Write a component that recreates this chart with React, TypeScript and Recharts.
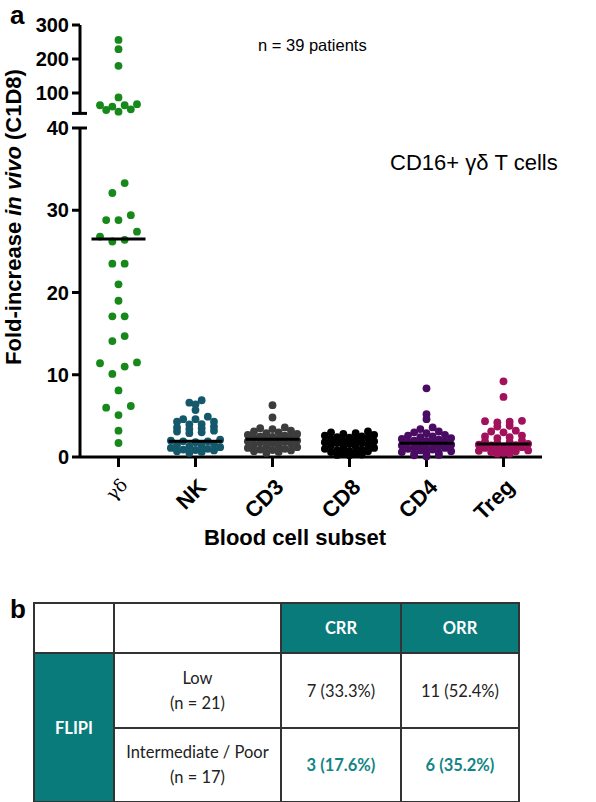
import React from "react";
import { ScatterChart, Scatter, XAxis, YAxis } from "recharts";

const SUBSETS = ["γδ", "NK", "CD3", "CD8", "CD4", "Treg"];
const COLORS = ["#17891b", "#14596b", "#3c3c3c", "#000000", "#4a0b62", "#a1115c"];

// fold-increase per patient
const GD_HIGH = [256, 229, 180, 87, 67, 64, 64, 60, 52, 50, 45];
const GD_LOW = [33.3, 32.1, 29.4, 28.8, 28.8, 27.4, 26.8, 26.4, 26.2, 23.5, 23.5, 21.0, 19.0, 17.1, 17.1, 14.7, 14.1, 11.5, 11.4, 11.0, 10.1, 8.1, 6.2, 6.0, 5.1, 3.2, 1.7];
const NK = [6.9, 6.6, 6.4, 5.7, 4.9, 4.6, 4.6, 4.3, 4.3, 4.0, 3.95, 3.7, 3.6, 3.5, 3.4, 3.2, 3.1, 3.0, 2.9, 2.1, 2.0, 1.9, 1.9, 1.8, 1.6, 1.5, 1.4, 1.3, 1.2, 1.1, 1.0, 0.9, 0.85, 0.8, 0.7, 0.6, 0.5];
const CD3 = [6.3, 4.8, 3.6, 3.5, 3.4, 3.2, 3.1, 3.0, 2.9, 2.8, 2.7, 2.6, 2.5, 2.45, 2.4, 2.3, 2.2, 2.1, 2.0, 1.9, 1.85, 1.8, 1.7, 1.6, 1.5, 1.4, 1.3, 1.2, 1.1, 1.0, 0.9, 0.85, 0.8, 0.7, 0.6, 0.5];
const CD8 = [3.1, 3.0, 2.9, 2.8, 2.7, 2.6, 2.5, 2.4, 2.35, 2.3, 2.2, 2.1, 2.0, 1.9, 1.8, 1.75, 1.7, 1.6, 1.5, 1.4, 1.3, 1.2, 1.1, 1.0, 0.9, 0.8, 0.75, 0.7, 0.6, 0.5, 0.4, 0.3, 0.25, 0.2];
const CD4 = [8.35, 5.2, 4.6, 3.6, 3.4, 3.1, 3.0, 2.9, 2.7, 2.6, 2.5, 2.4, 2.3, 2.2, 2.1, 2.0, 1.95, 1.9, 1.8, 1.7, 1.6, 1.5, 1.4, 1.3, 1.2, 1.15, 1.1, 1.0, 0.9, 0.8, 0.7, 0.6, 0.5, 0.4, 0.35, 0.25, 0.2, 0.05];
const TREG = [9.2, 7.3, 4.4, 4.35, 4.3, 4.2, 3.8, 3.7, 3.2, 3.1, 3.0, 2.6, 2.5, 2.4, 2.3, 2.0, 1.9, 1.8, 1.7, 1.6, 1.5, 1.45, 1.4, 1.3, 1.2, 1.1, 1.0, 0.9, 0.8, 0.75, 0.7, 0.6, 0.5, 0.4, 0.4];
const MEDIANS = [26.5, 1.9, 2.15, 1.67, 1.66, 1.58];

const LOW_TICKS = [0, 10, 20, 30, 40];
const HIGH_TICKS = [40, 100, 200, 300];

// table b
const TABLE_COLS = ["CRR", "ORR"];
const TABLE_ROWS = [
  { group: "Low", n: 21, crr: "7 (33.3%)", orr: "11 (52.4%)", hi: false },
  { group: "Intermediate / Poor", n: 17, crr: "3 (17.6%)", orr: "6 (35.2%)", hi: true },
];

const TEAL = "#0a7b7b";
const FONT = '"Liberation Sans", Arial, sans-serif';
const W = 596;
const M = { left: 0, right: 54 };
const SLOT = 0.08; // horizontal spacing of swarm columns, in category units

// Prism-style scatter: points binned into rows, spread symmetrically
function swarm(values: number[], group: number, step: number) {
  const s = [...values].sort((a, b) => b - a);
  const out: { x: number; y: number }[] = [];
  let i = 0;
  while (i < s.length) {
    let j = i;
    while (j < s.length && s[i] - s[j] < step) j++;
    const n = j - i;
    for (let k = 0; k < n; k++) {
      const mag = n - 1 - 2 * Math.floor(k / 2);
      out.push({ x: group + (k % 2 === 0 ? mag : -mag) * SLOT, y: s[i + k] });
    }
    i = j;
  }
  return out;
}

const dot = (color: string) => (p: any) => <circle cx={p.cx} cy={p.cy} r={3.9} fill={color} />;
const medianBar = (p: any) => <line x1={p.cx - 27} x2={p.cx + 27} y1={p.cy} y2={p.cy} stroke="#000" strokeWidth={3} />;

function makeYTick(showBreakLabel: boolean) {
  return (props: any) => {
    const { x, y, payload } = props;
    const axisX = x + 11;
    const v = payload.value;
    return (
      <g>
        {v === 40 && <line x1={axisX} x2={axisX + 7} y1={y} y2={y} stroke="#000" strokeWidth={3} />}
        {(v !== 40 || showBreakLabel) && (
          <text x={x} y={y} dy="0.36em" textAnchor="end" fontFamily={FONT} fontWeight="bold" fontSize={20} fill="#000">
            {v}
          </text>
        )}
      </g>
    );
  };
}

function XTick(props: any) {
  const { x, y, payload } = props;
  const i = payload.value as number;
  const greek = i === 0;
  return (
    <g transform={`translate(${x + 1},${y + 6}) rotate(-45)`}>
      <text textAnchor="end" dy={greek ? 13 : 16} fontFamily={greek ? '"DejaVu Serif", serif' : FONT}
        fontWeight={greek ? "normal" : "bold"} fontSize={greek ? 18 : 22} fill="#000">
        {SUBSETS[i]}
      </text>
    </g>
  );
}

export default function App() {
  const groups = [GD_LOW, NK, CD3, CD8, CD4, TREG];
  const lowData = groups.map((g, i) => swarm(g, i, i === 0 ? 1.45 : 0.38));
  const highData = swarm(GD_HIGH, 0, 15);
  const medData = MEDIANS.map((m, i) => ({ x: i, y: m }));
  const axisStyle = { stroke: "#000", strokeWidth: 3 };

  return (
    <div style={{ position: "absolute", left: 0, top: 0, width: W, height: 802, background: "#fff", fontFamily: FONT }}>
      <ScatterChart width={W} height={560} margin={{ top: 128, right: M.right, bottom: 0, left: M.left }}
        style={{ position: "absolute", left: 0, top: 0 }}>
        <XAxis type="number" dataKey="x" domain={[-0.5, 5.5]} ticks={[0, 1, 2, 3, 4, 5]} interval={0}
          height={103} axisLine={axisStyle} tickLine={axisStyle} tickSize={10} tickMargin={4} tick={<XTick />} />
        <YAxis type="number" dataKey="y" domain={[0, 40]} ticks={LOW_TICKS} interval={0} width={80}
          axisLine={axisStyle} tickLine={axisStyle} tickSize={8} tickMargin={3} tick={makeYTick(true)} />
        {lowData.map((d, i) => (
          <Scatter key={SUBSETS[i]} data={d} shape={dot(COLORS[i])} isAnimationActive={false} />
        ))}
        <Scatter data={medData} shape={medianBar} isAnimationActive={false} />
      </ScatterChart>

      <ScatterChart width={W} height={130} margin={{ top: 25, right: M.right, bottom: 16.6, left: M.left }}
        style={{ position: "absolute", left: 0, top: 0 }}>
        <XAxis type="number" dataKey="x" domain={[-0.5, 5.5]} hide />
        <YAxis type="number" dataKey="y" domain={[40, 300]} ticks={HIGH_TICKS} interval={0} width={80}
          axisLine={axisStyle} tickLine={axisStyle} tickSize={8} tickMargin={3} tick={makeYTick(false)} />
        <Scatter data={highData} shape={dot(COLORS[0])} isAnimationActive={false} />
      </ScatterChart>

      {/* labels */}
      <div style={{ position: "absolute", left: 10, top: 2, fontSize: 26, fontWeight: "bold", lineHeight: 1 }}>a</div>
      <div style={{ position: "absolute", left: 14, top: 217, transform: "translate(-50%,-50%) rotate(-90deg)",
        whiteSpace: "nowrap", fontSize: 22, fontWeight: "bold", lineHeight: 1 }}>
        Fold-increase <i>in vivo</i> (C1D8)
      </div>
      <div style={{ position: "absolute", left: 258, top: 37, fontSize: 16.5, lineHeight: 1 }}>n = 39 patients</div>
      <div style={{ position: "absolute", left: 390, top: 152, fontSize: 22, lineHeight: 1 }}>CD16+ γδ T cells</div>
      <div style={{ position: "absolute", left: 295, top: 538, transform: "translate(-50%,-50%)",
        whiteSpace: "nowrap", fontSize: 22, fontWeight: "bold", lineHeight: 1 }}>Blood cell subset</div>

      <div style={{ position: "absolute", left: 10, top: 596, fontSize: 26, fontWeight: "bold", lineHeight: 1 }}>b</div>
      <table style={{ position: "absolute", left: 33, top: 602, width: 485, height: 199, borderCollapse: "collapse",
        tableLayout: "fixed", fontFamily: "Lato, 'Open Sans', sans-serif", fontSize: 16.5, color: "#222", textAlign: "center" }}>
        <colgroup>
          <col style={{ width: 80 }} /><col style={{ width: 167 }} /><col style={{ width: 120 }} /><col style={{ width: 118 }} />
        </colgroup>
        <tbody>
          <tr style={{ height: 50 }}>
            <td style={cell} />
            <td style={cell} />
            {TABLE_COLS.map((c) => (
              <td key={c} style={{ ...cell, background: TEAL, color: "#fff", fontWeight: "bold" }}>{c}</td>
            ))}
          </tr>
          {TABLE_ROWS.map((r, i) => (
            <tr key={r.group} style={{ height: i === 0 ? 75 : 74 }}>
              {i === 0 && (
                <td rowSpan={2} style={{ ...cell, background: TEAL, color: "#fff", fontWeight: "bold" }}>FLIPI</td>
              )}
              <td style={{ ...cell, lineHeight: 1.5 }}>{r.group}<br />(n = {r.n})</td>
              <td style={{ ...cell, color: r.hi ? "#138585" : "#222", fontWeight: r.hi ? "bold" : "normal" }}>{r.crr}</td>
              <td style={{ ...cell, color: r.hi ? "#138585" : "#222", fontWeight: r.hi ? "bold" : "normal" }}>{r.orr}</td>
            </tr>
          ))}
        </tbody>
      </table>
    </div>
  );
}

const cell: React.CSSProperties = { border: "2px solid #333", padding: 0 };
